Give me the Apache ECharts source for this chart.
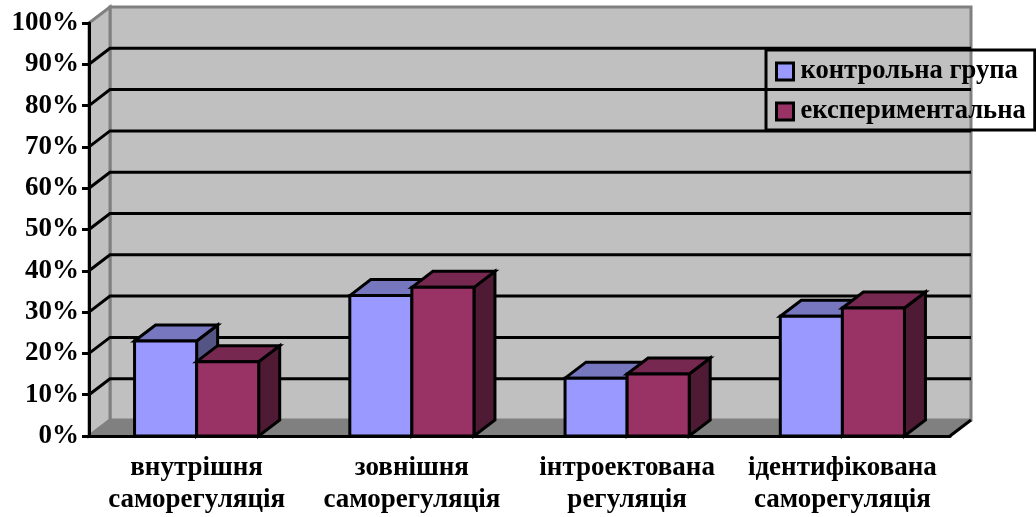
<!DOCTYPE html>
<html>
<head>
<meta charset="utf-8">
<style>html,body{margin:0;padding:0;background:#fff}#c{width:1036px;height:517px}</style>
<script src="https://cdn.jsdelivr.net/npm/echarts@6/dist/echarts.min.js"></script>
</head>
<body>
<div id="c"></div>
<script>
const categories = ['внутрішня\nсаморегуляція', 'зовнішня\nсаморегуляція', 'інтроектована\nрегуляція', 'ідентифікована\nсаморегуляція'];
const controlValues = [23, 34, 14, 29];
const experimentalValues = [18, 36, 15, 31];
const gridValues = [10, 20, 30, 40, 50, 60, 70, 80, 90];
const seriesNames = ['контрольна група', 'експериментальна'];

const DX = 21, DY = -16;
const FONT = '"Liberation Serif","Times New Roman",serif';
const WALL = '#C0C0C0', FLOOR = '#808080';
const BLACK = '#000';
const LW = 3;

function poly(points, fill, stroke, lw) {
  return {type: 'polygon', shape: {points}, style: {fill, stroke: stroke || null, lineWidth: lw || 0, lineJoin: 'miter'}, silent: true};
}
function line(points, stroke, lw) {
  return {type: 'polyline', shape: {points}, style: {fill: null, stroke, lineWidth: lw}, silent: true};
}

function renderWalls(params, api) {
  const cs = params.coordSys;
  const l = cs.x, r = cs.x + cs.width, t = cs.y, b = cs.y + cs.height;
  return {type: 'group', children: [
    poly([[l + DX, t + DY], [r + DX, t + DY], [r + DX, b + DY], [l + DX, b + DY]], WALL, FLOOR, 3),
    poly([[l, t], [l + DX, t + DY], [l + DX, b + DY], [l, b]], WALL, FLOOR, 3),
    poly([[l, b], [l + DX, b + DY], [r + DX, b + DY], [r, b]], FLOOR, FLOOR, 1),
    line([[r, b], [r + DX, b + DY]], BLACK, LW)
  ]};
}

function renderGrid(params, api) {
  const cs = params.coordSys;
  const y = api.coord([0, api.value(1)])[1];
  return line([[cs.x, y], [cs.x + DX, y + DY], [cs.x + cs.width + DX, y + DY]], BLACK, LW);
}

function barRenderer(colors, side) {
  return function (params, api) {
    const cat = api.value(0), val = api.value(1);
    const p = api.coord([cat, val]), base = api.coord([cat, 0]);
    const w = api.size([1, 0])[0] * 0.2884;
    const x0 = side < 0 ? p[0] - w : p[0], x1 = x0 + w, yt = p[1], yb = base[1];
    return {type: 'group', children: [
      poly([[x1, yt], [x1 + DX, yt + DY], [x1 + DX, yb + DY], [x1, yb]], colors[2], BLACK, LW),
      poly([[x0, yt], [x0 + DX, yt + DY], [x1 + DX, yt + DY], [x1, yt]], colors[1], BLACK, LW),
      poly([[x0, yt], [x1, yt], [x1, yb], [x0, yb]], colors[0], BLACK, LW)
    ]};
  };
}

const toData = arr => arr.map((v, i) => [i, v]);
const chart = echarts.init(document.getElementById('c'), null, {renderer: 'canvas'});
chart.setOption({
  animation: false,
  backgroundColor: '#fff',
  grid: {left: 89, right: 86, top: 23, bottom: 81, containLabel: false},
  legend: {
    left: 766, top: 50,
    orient: 'vertical',
    data: seriesNames,
    icon: 'rect',
    itemWidth: 17, itemHeight: 17, itemGap: 13,
    padding: [8, 9, 5, 9],
    borderColor: BLACK, borderWidth: 3,
    backgroundColor: 'transparent',
    selectedMode: false,
    z: 10,
    itemStyle: {borderColor: BLACK, borderWidth: 3},
    textStyle: {fontFamily: FONT, fontWeight: 'bold', fontSize: 26.6, color: BLACK, padding: [0, 0, 0, 2]}
  },
  xAxis: {
    type: 'category',
    data: categories,
    z: 3,
    axisLine: {lineStyle: {color: BLACK, width: LW}},
    axisTick: {length: 7, alignWithLabel: false, lineStyle: {color: BLACK, width: LW}},
    axisLabel: {fontFamily: FONT, fontWeight: 'bold', fontSize: 27, color: BLACK, lineHeight: 32, margin: 16, interval: 0},
    splitLine: {show: false}
  },
  yAxis: {
    type: 'value', min: 0, max: 100, interval: 10,
    z: 3,
    axisLine: {show: true, lineStyle: {color: BLACK, width: LW}},
    axisTick: {show: true, length: 7, lineStyle: {color: BLACK, width: LW}},
    axisLabel: {formatter: '{value}%', fontFamily: FONT, fontWeight: 'bold', fontSize: 27, color: BLACK, margin: 10},
    splitLine: {show: false}
  },
  series: [
    {type: 'custom', name: 'walls', z: 1, silent: true, clip: false, data: [[0, 0]], renderItem: renderWalls},
    {type: 'custom', name: 'grid', z: 2, silent: true, clip: false, data: gridValues.map(v => [0, v]), renderItem: renderGrid},
    {type: 'custom', name: seriesNames[0], z: 4, silent: true, clip: false, itemStyle: {color: '#9999FF'},
      data: toData(controlValues), renderItem: barRenderer(['#9999FF', '#7777C0', '#555585'], -1)},
    {type: 'custom', name: seriesNames[1], z: 5, silent: true, clip: false, itemStyle: {color: '#993366'},
      data: toData(experimentalValues), renderItem: barRenderer(['#993366', '#772850', '#4F1A33'], 1)}
  ]
});
</script>
</body>
</html>
